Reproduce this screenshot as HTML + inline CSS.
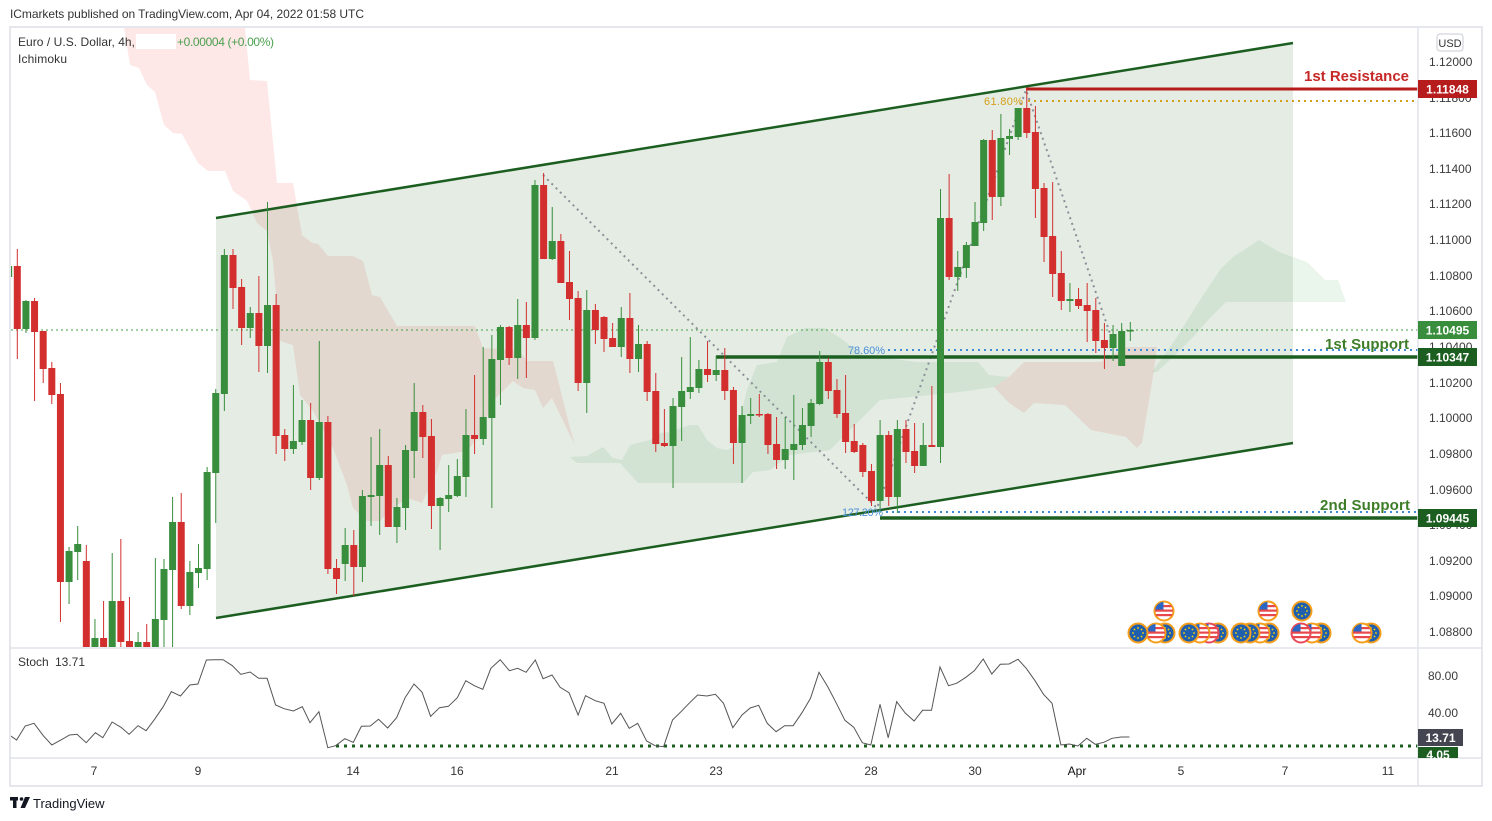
<!DOCTYPE html>
<html><head><meta charset="utf-8">
<style>
html,body{margin:0;padding:0;background:#fff;}
svg{display:block;font-family:"Liberation Sans",Arial,sans-serif;}
</style></head>
<body>
<svg width="1492" height="821" viewBox="0 0 1492 821" xmlns="http://www.w3.org/2000/svg">
<defs>
<clipPath id="main"><rect x="11" y="28" width="1407" height="619"/></clipPath>
<clipPath id="stp"><rect x="11" y="649" width="1407" height="109"/></clipPath>
<clipPath id="cc"><circle cx="0" cy="0" r="9"/></clipPath>
<g id="eu"><circle r="9.5" fill="#1f5fae" stroke="#f59e1b" stroke-width="2"/>
<g fill="#ffd600"><circle cx="0" cy="-5" r="0.9"/><circle cx="3.5" cy="-3.5" r="0.9"/><circle cx="5" cy="0" r="0.9"/><circle cx="3.5" cy="3.5" r="0.9"/><circle cx="0" cy="5" r="0.9"/><circle cx="-3.5" cy="3.5" r="0.9"/><circle cx="-5" cy="0" r="0.9"/><circle cx="-3.5" cy="-3.5" r="0.9"/></g></g>
<g id="us"><circle r="9.5" fill="#fff" stroke="#f59e1b" stroke-width="2"/>
<g clip-path="url(#cc)"><rect x="-10" y="-6" width="20" height="2.2" fill="#e8474c"/><rect x="-10" y="-1.5" width="20" height="2.2" fill="#e8474c"/><rect x="-10" y="3" width="20" height="2.2" fill="#e8474c"/><rect x="-10" y="-10" width="9.5" height="8.5" fill="#2a66c4"/></g></g>
<g id="usr"><circle r="9.5" fill="#fff" stroke="#e84a5a" stroke-width="2"/>
<g clip-path="url(#cc)"><rect x="-10" y="-6" width="20" height="2.2" fill="#e8474c"/><rect x="-10" y="-1.5" width="20" height="2.2" fill="#e8474c"/><rect x="-10" y="3" width="20" height="2.2" fill="#e8474c"/><rect x="-10" y="-10" width="9.5" height="8.5" fill="#2a66c4"/></g></g>
</defs>
<rect width="1492" height="821" fill="#fff"/>
<text x="10" y="18" font-size="12" fill="#333" textLength="354">ICmarkets published on TradingView.com, Apr 04, 2022 01:58 UTC</text>

<!-- MAIN PANE -->
<g clip-path="url(#main)">
<polygon fill="rgba(244,67,54,0.12)" points="124,28 245,28 250,80 267,81 277,183 293,183 302,235 312,243 318,244 328,256 353,256 363,261 372,295 380,297 397,326 475,326 483,348 518,350 527,361 553,361 560,388 570,428 575,445 563,421 552,398 543,408 535,390 523,388 513,381 493,401 480,435 467,451 442,455 437,471 422,503 407,498 390,510 380,521 367,521 353,508 347,485 333,448 313,411 300,395 293,345 280,341 273,261 267,231 257,223 247,201 233,191 225,171 208,171 198,163 182,134 173,133 164,125 155,92 147,85 139,68 130,65"/>
<polygon fill="rgba(67,160,71,0.11)" points="570,457 587,456 603,447 613,458 622,460 630,445 650,440 660,433 670,432 690,425 698,425 707,440 717,448 727,450 733,447 747,390 757,365 777,362 787,337 805,328 825,328 843,340 866,358 886,358 917,362 978,362 989,375 1009,377 994,387 960,392 920,396 880,400 860,420 840,440 830,450 790,455 770,470 753,472 743,483 638,483 620,463 577,463"/>
<polygon fill="rgba(244,67,54,0.12)" points="1009,377 1024,362 1101,362 1126,347 1157,347 1154,370 1142,443 1137,448 1126,437 1091,430 1065,405 1034,403 1024,413 1009,403 994,387"/>
<polygon fill="rgba(67,160,71,0.11)" points="1152,372 1175,340 1200,300 1220,270 1233,257 1259,240 1279,252 1307,262 1325,280 1338,280 1346,302 1226,302 1210,318 1195,335 1175,355 1157,372"/>
<polygon fill="rgba(75,128,75,0.15)" points="216,218 1293,43 1293,443 216,618"/>
<line x1="216" y1="218" x2="1293" y2="43" stroke="#1b5e20" stroke-width="2.5"/>
<line x1="216" y1="618" x2="1293" y2="443" stroke="#1b5e20" stroke-width="2.5"/>
<line x1="11" y1="330" x2="1418" y2="330" stroke="#43a047" stroke-width="1" stroke-dasharray="2 3"/>
<polyline points="543,175 877,508 1026,90 1115,348" fill="none" stroke="#8c8f99" stroke-width="2" stroke-dasharray="2 4"/>
<line x1="1028" y1="101" x2="1418" y2="101" stroke="#d4a017" stroke-width="2" stroke-dasharray="2 4"/>
<line x1="888" y1="350" x2="1418" y2="350" stroke="#3d8bd4" stroke-width="2" stroke-dasharray="2 4"/>
<line x1="886" y1="512" x2="1418" y2="512" stroke="#3d8bd4" stroke-width="2" stroke-dasharray="2 4"/>
<line x1="1026" y1="89" x2="1418" y2="89" stroke="#b71c1c" stroke-width="3"/>
<line x1="716" y1="357" x2="1418" y2="357" stroke="#1b5e20" stroke-width="3.5"/>
<line x1="880" y1="518" x2="1418" y2="518" stroke="#1b5e20" stroke-width="3.5"/>

<g fill="#d32f2f">
<rect x="13.8" y="266" width="7" height="63"/><rect x="16.8" y="249" width="1" height="110"/>
<rect x="31.06" y="301" width="7" height="31"/><rect x="34.06" y="298" width="1" height="103"/>
<rect x="39.68" y="331" width="7" height="38"/><rect x="42.68" y="331" width="1" height="52"/>
<rect x="48.31" y="368" width="7" height="27"/><rect x="51.31" y="362" width="1" height="42"/>
<rect x="56.94" y="394" width="7" height="188"/><rect x="59.94" y="383" width="1" height="239"/>
<rect x="82.82" y="561" width="7" height="99"/><rect x="85.82" y="545" width="1" height="115"/>
<rect x="100.08" y="638" width="7" height="22"/><rect x="103.08" y="601" width="1" height="59"/>
<rect x="117.34" y="601" width="7" height="41"/><rect x="120.34" y="539" width="1" height="121"/>
<rect x="125.96" y="641" width="7" height="19"/><rect x="128.96" y="597" width="1" height="63"/>
<rect x="143.22" y="642" width="7" height="18"/><rect x="146.22" y="624" width="1" height="36"/>
<rect x="177.73" y="522" width="7" height="84"/><rect x="180.73" y="493" width="1" height="116"/>
<rect x="229.5" y="255" width="7" height="33"/><rect x="232.5" y="249" width="1" height="60"/>
<rect x="238.13" y="287" width="7" height="41"/><rect x="241.13" y="279" width="1" height="66"/>
<rect x="255.38" y="313" width="7" height="33"/><rect x="258.38" y="276" width="1" height="96"/>
<rect x="272.64" y="305" width="7" height="131"/><rect x="275.64" y="294" width="1" height="160"/>
<rect x="281.27" y="435" width="7" height="14"/><rect x="284.27" y="429" width="1" height="32"/>
<rect x="307.15" y="420" width="7" height="58"/><rect x="310.15" y="403" width="1" height="87"/>
<rect x="324.41" y="422" width="7" height="147"/><rect x="327.41" y="416" width="1" height="158"/>
<rect x="333.04" y="568" width="7" height="11"/><rect x="336.04" y="559" width="1" height="35"/>
<rect x="350.29" y="545" width="7" height="22"/><rect x="353.29" y="530" width="1" height="66"/>
<rect x="384.8" y="465" width="7" height="62"/><rect x="387.8" y="456" width="1" height="71"/>
<rect x="419.32" y="412" width="7" height="25"/><rect x="422.32" y="405" width="1" height="53"/>
<rect x="427.94" y="436" width="7" height="70"/><rect x="430.94" y="419" width="1" height="110"/>
<rect x="471.08" y="435" width="7" height="4"/><rect x="474.08" y="375" width="1" height="79"/>
<rect x="505.6" y="327" width="7" height="31"/><rect x="508.6" y="326" width="1" height="39"/>
<rect x="522.85" y="325" width="7" height="13"/><rect x="525.85" y="302" width="1" height="76"/>
<rect x="540.11" y="185" width="7" height="74"/><rect x="543.11" y="173" width="1" height="86"/>
<rect x="557.36" y="241" width="7" height="42"/><rect x="560.36" y="234" width="1" height="49"/>
<rect x="565.99" y="282" width="7" height="17"/><rect x="568.99" y="251" width="1" height="69"/>
<rect x="574.62" y="298" width="7" height="85"/><rect x="577.62" y="291" width="1" height="100"/>
<rect x="591.88" y="310" width="7" height="20"/><rect x="594.88" y="304" width="1" height="40"/>
<rect x="600.5" y="317" width="7" height="22"/><rect x="603.5" y="316" width="1" height="36"/>
<rect x="609.13" y="338" width="7" height="9"/><rect x="612.13" y="323" width="1" height="24"/>
<rect x="626.39" y="318" width="7" height="41"/><rect x="629.39" y="293" width="1" height="80"/>
<rect x="643.64" y="344" width="7" height="48"/><rect x="646.64" y="341" width="1" height="60"/>
<rect x="652.27" y="391" width="7" height="53"/><rect x="655.27" y="373" width="1" height="79"/>
<rect x="660.9" y="443" width="7" height="3"/><rect x="663.9" y="409" width="1" height="38"/>
<rect x="704.04" y="369" width="7" height="6"/><rect x="707.04" y="341" width="1" height="41"/>
<rect x="721.3" y="370" width="7" height="21"/><rect x="724.3" y="348" width="1" height="52"/>
<rect x="729.92" y="390" width="7" height="53"/><rect x="732.92" y="387" width="1" height="77"/>
<rect x="755.81" y="414" width="7" height="1.5"/><rect x="758.81" y="394" width="1" height="23"/>
<rect x="764.44" y="414" width="7" height="31"/><rect x="767.44" y="413" width="1" height="41"/>
<rect x="773.06" y="444" width="7" height="16"/><rect x="776.06" y="417" width="1" height="52"/>
<rect x="824.83" y="362" width="7" height="29"/><rect x="827.83" y="358" width="1" height="41"/>
<rect x="833.46" y="390" width="7" height="24"/><rect x="836.46" y="379" width="1" height="39"/>
<rect x="842.09" y="413" width="7" height="29"/><rect x="845.09" y="375" width="1" height="78"/>
<rect x="850.72" y="441" width="7" height="11"/><rect x="853.72" y="424" width="1" height="29"/>
<rect x="859.34" y="445" width="7" height="27"/><rect x="862.34" y="443" width="1" height="34"/>
<rect x="867.97" y="471" width="7" height="30"/><rect x="870.97" y="464" width="1" height="42"/>
<rect x="885.23" y="435" width="7" height="62"/><rect x="888.23" y="431" width="1" height="75"/>
<rect x="902.48" y="429" width="7" height="23"/><rect x="905.48" y="420" width="1" height="43"/>
<rect x="911.11" y="451" width="7" height="15"/><rect x="914.11" y="423" width="1" height="50"/>
<rect x="928.37" y="445" width="7" height="2"/><rect x="931.37" y="386" width="1" height="61"/>
<rect x="945.62" y="218" width="7" height="59"/><rect x="948.62" y="174" width="1" height="106"/>
<rect x="988.76" y="140" width="7" height="57"/><rect x="991.76" y="130" width="1" height="90"/>
<rect x="1023.28" y="108" width="7" height="25"/><rect x="1026.28" y="88" width="1" height="50"/>
<rect x="1031.9" y="132" width="7" height="57"/><rect x="1034.9" y="106" width="1" height="112"/>
<rect x="1040.53" y="188" width="7" height="49"/><rect x="1043.53" y="183" width="1" height="79"/>
<rect x="1049.16" y="236" width="7" height="38"/><rect x="1052.16" y="182" width="1" height="115"/>
<rect x="1057.79" y="273" width="7" height="28"/><rect x="1060.79" y="251" width="1" height="59"/>
<rect x="1075.04" y="299" width="7" height="7"/><rect x="1078.04" y="288" width="1" height="21"/>
<rect x="1083.67" y="305" width="7" height="6"/><rect x="1086.67" y="283" width="1" height="59"/>
<rect x="1092.3" y="310" width="7" height="31"/><rect x="1095.3" y="298" width="1" height="55"/>
<rect x="1100.93" y="340" width="7" height="8"/><rect x="1103.93" y="323" width="1" height="46"/>
</g>
<g fill="#388e3c">
<rect x="5.17" y="266" width="7" height="11"/>
<rect x="22.43" y="301" width="7" height="28"/><rect x="25.43" y="300" width="1" height="33"/>
<rect x="65.57" y="551" width="7" height="31"/><rect x="68.57" y="547" width="1" height="57"/>
<rect x="74.2" y="544" width="7" height="8"/><rect x="77.2" y="526" width="1" height="54"/>
<rect x="91.45" y="638" width="7" height="22"/><rect x="94.45" y="619" width="1" height="41"/>
<rect x="108.71" y="601" width="7" height="59"/><rect x="111.71" y="553" width="1" height="107"/>
<rect x="134.59" y="642" width="7" height="18"/><rect x="137.59" y="632" width="1" height="28"/>
<rect x="151.85" y="619" width="7" height="41"/><rect x="154.85" y="558" width="1" height="102"/>
<rect x="160.48" y="569" width="7" height="51"/><rect x="163.48" y="559" width="1" height="101"/>
<rect x="169.1" y="522" width="7" height="48"/><rect x="172.1" y="497" width="1" height="163"/>
<rect x="186.36" y="572" width="7" height="34"/><rect x="189.36" y="561" width="1" height="54"/>
<rect x="194.99" y="568" width="7" height="5"/><rect x="197.99" y="544" width="1" height="44"/>
<rect x="203.62" y="472" width="7" height="97"/><rect x="206.62" y="467" width="1" height="113"/>
<rect x="212.24" y="393" width="7" height="80"/><rect x="215.24" y="389" width="1" height="134"/>
<rect x="220.87" y="255" width="7" height="139"/><rect x="223.87" y="249" width="1" height="162"/>
<rect x="246.76" y="313" width="7" height="15"/><rect x="249.76" y="307" width="1" height="31"/>
<rect x="264.01" y="305" width="7" height="41"/><rect x="267.01" y="202" width="1" height="171"/>
<rect x="289.9" y="441" width="7" height="8"/><rect x="292.9" y="385" width="1" height="69"/>
<rect x="298.52" y="420" width="7" height="22"/><rect x="301.52" y="400" width="1" height="45"/>
<rect x="315.78" y="422" width="7" height="56"/><rect x="318.78" y="341" width="1" height="139"/>
<rect x="341.66" y="545" width="7" height="19"/><rect x="344.66" y="528" width="1" height="53"/>
<rect x="358.92" y="496" width="7" height="71"/><rect x="361.92" y="490" width="1" height="92"/>
<rect x="367.55" y="495" width="7" height="2"/><rect x="370.55" y="437" width="1" height="89"/>
<rect x="376.18" y="465" width="7" height="31"/><rect x="379.18" y="429" width="1" height="106"/>
<rect x="393.43" y="507" width="7" height="20"/><rect x="396.43" y="498" width="1" height="45"/>
<rect x="402.06" y="450" width="7" height="58"/><rect x="405.06" y="445" width="1" height="85"/>
<rect x="410.69" y="412" width="7" height="39"/><rect x="413.69" y="383" width="1" height="95"/>
<rect x="436.57" y="498" width="7" height="8"/><rect x="439.57" y="497" width="1" height="53"/>
<rect x="445.2" y="495" width="7" height="4"/><rect x="448.2" y="465" width="1" height="47"/>
<rect x="453.83" y="476" width="7" height="20"/><rect x="456.83" y="459" width="1" height="38"/>
<rect x="462.46" y="435" width="7" height="42"/><rect x="465.46" y="409" width="1" height="88"/>
<rect x="479.71" y="417" width="7" height="22"/><rect x="482.71" y="347" width="1" height="98"/>
<rect x="488.34" y="359" width="7" height="59"/><rect x="491.34" y="335" width="1" height="173"/>
<rect x="496.97" y="327" width="7" height="33"/><rect x="499.97" y="325" width="1" height="80"/>
<rect x="514.22" y="325" width="7" height="33"/><rect x="517.22" y="299" width="1" height="80"/>
<rect x="531.48" y="185" width="7" height="153"/><rect x="534.48" y="180" width="1" height="160"/>
<rect x="548.74" y="241" width="7" height="18"/><rect x="551.74" y="207" width="1" height="53"/>
<rect x="583.25" y="310" width="7" height="73"/><rect x="586.25" y="290" width="1" height="123"/>
<rect x="617.76" y="318" width="7" height="29"/><rect x="620.76" y="307" width="1" height="50"/>
<rect x="635.02" y="344" width="7" height="15"/><rect x="638.02" y="325" width="1" height="47"/>
<rect x="669.53" y="406" width="7" height="40"/><rect x="672.53" y="398" width="1" height="90"/>
<rect x="678.16" y="391" width="7" height="16"/><rect x="681.16" y="357" width="1" height="84"/>
<rect x="686.78" y="387" width="7" height="5"/><rect x="689.78" y="337" width="1" height="62"/>
<rect x="695.41" y="369" width="7" height="19"/><rect x="698.41" y="360" width="1" height="33"/>
<rect x="712.67" y="370" width="7" height="5"/><rect x="715.67" y="356" width="1" height="25"/>
<rect x="738.55" y="415" width="7" height="28"/><rect x="741.55" y="406" width="1" height="77"/>
<rect x="747.18" y="414" width="7" height="2"/><rect x="750.18" y="398" width="1" height="26"/>
<rect x="781.69" y="449" width="7" height="11"/><rect x="784.69" y="417" width="1" height="52"/>
<rect x="790.32" y="444" width="7" height="6"/><rect x="793.32" y="395" width="1" height="85"/>
<rect x="798.95" y="425" width="7" height="20"/><rect x="801.95" y="408" width="1" height="42"/>
<rect x="807.58" y="403" width="7" height="23"/><rect x="810.58" y="399" width="1" height="38"/>
<rect x="816.2" y="362" width="7" height="42"/><rect x="819.2" y="351" width="1" height="54"/>
<rect x="876.6" y="435" width="7" height="66"/><rect x="879.6" y="420" width="1" height="93"/>
<rect x="893.86" y="429" width="7" height="68"/><rect x="896.86" y="420" width="1" height="93"/>
<rect x="919.74" y="445" width="7" height="21"/><rect x="922.74" y="423" width="1" height="43"/>
<rect x="937" y="218" width="7" height="229"/><rect x="940" y="189" width="1" height="274"/>
<rect x="954.25" y="267" width="7" height="10"/><rect x="957.25" y="251" width="1" height="40"/>
<rect x="962.88" y="245" width="7" height="23"/><rect x="965.88" y="242" width="1" height="36"/>
<rect x="971.51" y="222" width="7" height="24"/><rect x="974.51" y="202" width="1" height="44"/>
<rect x="980.14" y="140" width="7" height="83"/><rect x="983.14" y="139" width="1" height="92"/>
<rect x="997.39" y="138" width="7" height="59"/><rect x="1000.39" y="114" width="1" height="92"/>
<rect x="1006.02" y="136" width="7" height="3"/><rect x="1009.02" y="129" width="1" height="26"/>
<rect x="1014.65" y="108" width="7" height="29"/><rect x="1017.65" y="108" width="1" height="32"/>
<rect x="1066.42" y="299" width="7" height="2"/><rect x="1069.42" y="283" width="1" height="29"/>
<rect x="1109.56" y="334" width="7" height="14"/><rect x="1112.56" y="325" width="1" height="36"/>
<rect x="1118.18" y="331" width="7" height="35"/><rect x="1121.18" y="323" width="1" height="43"/>
<rect x="1126.81" y="330" width="7" height="1.5"/><rect x="1129.81" y="322" width="1" height="19"/>
</g>

<text x="984" y="105" font-size="11" fill="#d4a017" textLength="39">61.80%</text>
<text x="848" y="354" font-size="11" fill="#4a90d9" textLength="37">78.60%</text>
<text x="842" y="516" font-size="11" fill="#4a90d9" textLength="41">127.20%</text>
<text x="1304" y="81" font-size="15" font-weight="bold" fill="#c62828" textLength="105">1st Resistance</text>
<text x="1325" y="349" font-size="15" font-weight="bold" fill="#3e7d27" textLength="84">1st Support</text>
<text x="1320" y="510" font-size="15" font-weight="bold" fill="#3e7d27" textLength="90">2nd Support</text>

<use href="#us" x="1164" y="611"/>
<use href="#us" x="1268" y="611"/>
<use href="#eu" x="1302" y="611"/>
<use href="#eu" x="1165" y="633"/><use href="#us" x="1156" y="633"/><use href="#eu" x="1138" y="633"/>
<use href="#eu" x="1218" y="633"/><use href="#usr" x="1209" y="633"/><use href="#us" x="1200" y="633"/><use href="#eu" x="1189" y="633"/>
<use href="#eu" x="1269" y="633"/><use href="#us" x="1260" y="633"/><use href="#eu" x="1250" y="633"/><use href="#eu" x="1241" y="633"/>
<use href="#eu" x="1321" y="633"/><use href="#us" x="1312" y="633"/><use href="#usr" x="1301" y="633"/>
<use href="#eu" x="1371" y="633"/><use href="#us" x="1362" y="633"/>
</g>

<text x="18" y="46" font-size="12" fill="#333" textLength="117">Euro / U.S. Dollar, 4h,</text>
<rect x="136" y="34" width="40" height="15" fill="#fff"/>
<text x="177" y="46" font-size="12" fill="#4a9f4e" textLength="97">+0.00004 (+0.00%)</text>
<text x="18" y="63" font-size="12" fill="#333" textLength="49">Ichimoku</text>

<g clip-path="url(#stp)">
<line x1="336" y1="746" x2="1418" y2="746" stroke="#1b5e20" stroke-width="3" stroke-dasharray="3 5"/>
<polyline fill="none" stroke="#555" stroke-width="1" points="10.4,735.7 16.6,740 25.2,726 34,723.3 43.3,735.7 51.8,745 60.3,740.3 69.6,735 77,734.3 86.2,742.7 95.4,732.7 102.8,737.7 112.1,722 121,727.3 129.1,734.3 138,725.7 146.1,730.7 154.6,719.3 163.2,706.7 171.3,691.7 180.5,696 189.8,685 197.9,684 206.4,660 214.6,659.7 223.1,659.7 232.3,665.7 240.8,674.3 250.1,672 258.6,678.3 267.1,678.3 275.6,705 284.1,708.7 293.4,711 302.3,706.7 310,722.7 318.9,711.7 327.8,747.7 335.6,745.7 344.8,738.7 353.3,742.3 361.4,726.3 370.3,726 378.5,719.3 387.7,728 396.6,717.7 405.1,697.7 414,684 422.1,692.3 430.6,716.3 439.5,707.7 448.4,706.3 457.3,697.7 465.8,680.7 474.3,685.7 482.8,689.3 490.9,668.3 500.2,659.7 509.4,670.7 517.6,668.3 526.1,672.3 535.3,660 543.1,678.7 552,675 560.1,687.3 569,692.7 578.1,715 585.5,695.7 595.2,700.7 604,703.3 611.8,724 620.7,713.3 629.2,728.3 637.7,723.3 646.6,741 655.1,745.7 663.6,746.7 672.5,720 681,711.7 689.1,703.3 697.6,695 706.9,696 715.4,694.3 723.5,703.3 732.8,727.7 742,715 750.2,708 758.7,705.3 767.2,723.3 776.1,731.7 784.6,725.7 793.1,725.7 802,712.7 810.5,698.3 819,672.3 827.9,687 836.4,703.3 844.9,720.3 853.8,727.3 862.3,742.7 870.8,745 880,704.3 888.2,737.7 896.7,701.7 905.2,713 914.1,721 922.6,710.3 931.5,710.3 940,667 948.5,685.7 956.6,683.3 965.9,677.3 974.4,670.7 983.2,659 991.8,674 1000.3,664.3 1009.1,664 1018,659.3 1026.2,668.3 1035,680.7 1043.5,694.3 1052,703.3 1060.9,745 1069.4,744 1078,746 1086.8,738.3 1095.3,744.3 1103.8,742.3 1112,738.3 1121.2,737 1129.4,737"/>
</g>
<text x="18" y="666" font-size="12" fill="#333">Stoch</text>
<text x="55" y="666" font-size="12" fill="#333">13.71</text>

<rect x="10" y="27" width="1472" height="759" fill="none" stroke="#e6e7ec" stroke-width="2"/>
<line x1="1418" y1="27" x2="1418" y2="786" stroke="#e0e3eb" stroke-width="1.5"/>
<line x1="10" y1="648" x2="1482" y2="648" stroke="#e0e3eb" stroke-width="1.5"/>
<line x1="10" y1="758" x2="1482" y2="758" stroke="#e0e3eb" stroke-width="1.5"/>

<g font-size="12" fill="#3b3b3b">
<text x="1429" y="66">1.12000</text>
<text x="1429" y="102">1.11800</text>
<text x="1429" y="137">1.11600</text>
<text x="1429" y="173">1.11400</text>
<text x="1429" y="208">1.11200</text>
<text x="1429" y="244">1.11000</text>
<text x="1429" y="280">1.10800</text>
<text x="1429" y="315">1.10600</text>
<text x="1429" y="351">1.10400</text>
<text x="1429" y="387">1.10200</text>
<text x="1429" y="422">1.10000</text>
<text x="1429" y="458">1.09800</text>
<text x="1429" y="494">1.09600</text>
<text x="1429" y="529">1.09400</text>
<text x="1429" y="565">1.09200</text>
<text x="1429" y="600">1.09000</text>
<text x="1429" y="636">1.08800</text>
<text x="1428" y="680">80.00</text>
<text x="1428" y="717">40.00</text>
</g>
<rect x="1437" y="34" width="26" height="17" rx="3" fill="#fff" stroke="#c8cbd3"/>
<text x="1450" y="47" font-size="11" fill="#333" text-anchor="middle">USD</text>

<g font-size="12" font-weight="bold" fill="#fff" text-anchor="middle">
<rect x="1418" y="80" width="59" height="18" fill="#b71c1c"/><text x="1447.5" y="93.5">1.11848</text>
<rect x="1418" y="321" width="59" height="18" fill="#388e3c"/><text x="1447.5" y="334.5">1.10495</text>
<rect x="1418" y="348" width="59" height="18" fill="#1b5e20"/><text x="1447.5" y="361.5">1.10347</text>
<rect x="1418" y="509" width="59" height="18" fill="#1b5e20"/><text x="1447.5" y="522.5">1.09445</text>
<rect x="1418" y="747" width="40" height="11" fill="#1b5e20"/><text x="1438" y="759">4.05</text>
<rect x="1418" y="729" width="45" height="17" fill="#434651"/><text x="1440.5" y="742">13.71</text>
</g>

<g font-size="12" fill="#333" text-anchor="middle">
<text x="94" y="775">7</text>
<text x="198" y="775">9</text>
<text x="353" y="775">14</text>
<text x="457" y="775">16</text>
<text x="612" y="775">21</text>
<text x="716" y="775">23</text>
<text x="871" y="775">28</text>
<text x="975" y="775">30</text>
<text x="1077" y="775" fill="#111">Apr</text>
<text x="1181" y="775">5</text>
<text x="1285" y="775">7</text>
<text x="1388" y="775">11</text>
</g>

<g fill="#131722">
<rect x="10" y="797" width="8" height="3.5"/>
<rect x="13" y="797" width="3.5" height="11"/>
<circle cx="21.5" cy="799" r="1.8"/>
<polygon points="25,797 30,797 25,808 20.5,808"/>
</g>
<text x="33" y="808" font-size="13" fill="#131722">TradingView</text>
</svg>
</body></html>
